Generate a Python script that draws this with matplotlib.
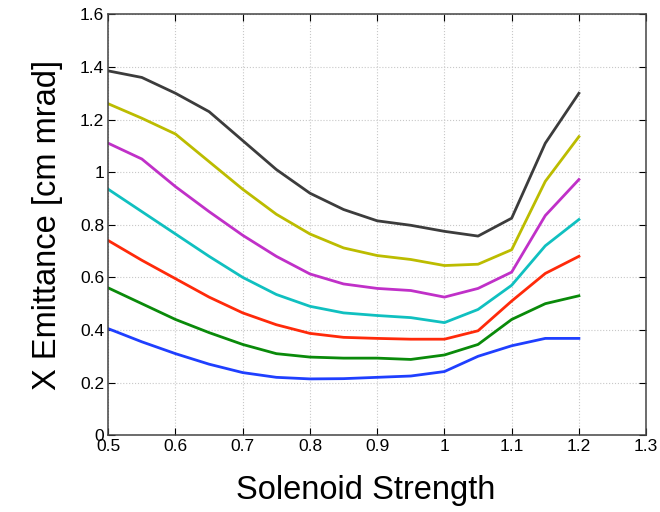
import numpy as np
import matplotlib
matplotlib.use('Agg')
import matplotlib.pyplot as plt

plt.rcParams['font.family'] = ['Liberation Sans', 'DejaVu Sans']

# Solenoid strength values
solenoid = [0.5, 0.55, 0.6, 0.65, 0.7, 0.75, 0.8, 0.85, 0.9, 0.95, 1.0, 1.05, 1.1, 1.15, 1.2]

# Emittance curves (bottom to top)
em_blue    = [0.405, 0.355, 0.31, 0.27, 0.238, 0.22, 0.214, 0.215, 0.22, 0.225, 0.242, 0.30, 0.34, 0.368, 0.368]
em_green   = [0.56, 0.50, 0.44, 0.39, 0.345, 0.31, 0.297, 0.293, 0.293, 0.288, 0.305, 0.345, 0.44, 0.50, 0.53]
em_red     = [0.74, 0.665, 0.595, 0.525, 0.465, 0.42, 0.387, 0.372, 0.368, 0.365, 0.365, 0.397, 0.51, 0.615, 0.68]
em_cyan    = [0.935, 0.85, 0.765, 0.68, 0.60, 0.535, 0.49, 0.465, 0.455, 0.447, 0.428, 0.478, 0.57, 0.72, 0.82]
em_magenta = [1.11, 1.05, 0.945, 0.85, 0.76, 0.68, 0.613, 0.575, 0.558, 0.55, 0.525, 0.558, 0.62, 0.835, 0.972]
em_yellow  = [1.26, 1.205, 1.145, 1.04, 0.935, 0.84, 0.765, 0.712, 0.683, 0.668, 0.645, 0.65, 0.705, 0.965, 1.135]
em_black   = [1.385, 1.36, 1.30, 1.23, 1.12, 1.01, 0.92, 0.858, 0.815, 0.798, 0.775, 0.757, 0.825, 1.11, 1.30]

series = [em_blue, em_green, em_red, em_cyan, em_magenta, em_yellow, em_black]
colors = ['#1f3fff', '#0a8a0a', '#ff2a0a', '#10c0c0', '#c030c8', '#bcbc00', '#3c3c3c']

fig = plt.figure(figsize=(6.6, 5.12), dpi=100)
ax = fig.add_axes([0.164, 0.150, 0.815, 0.822])

for ys, c in zip(series, colors):
    ax.plot(solenoid, ys, color=c, lw=2.0)

ax.set_xlim(0.5, 1.3)
ax.set_ylim(0, 1.6)
ax.set_xticks(np.arange(0.5, 1.31, 0.1))
ax.set_yticks(np.arange(0, 1.61, 0.2))
ax.set_xticklabels(['0.5', '0.6', '0.7', '0.8', '0.9', '1', '1.1', '1.2', '1.3'])
ax.set_yticklabels(['0', '0.2', '0.4', '0.6', '0.8', '1', '1.2', '1.4', '1.6'])
ax.grid(True, linestyle=':', color='#c8c8c8', lw=0.8)
ax.tick_params(direction='in', top=True, right=True, labelsize=12.5, length=5, pad=3)
for s in ax.spines.values():
    s.set_linewidth(1.1)
    s.set_color('#444444')

ax.set_xlabel('Solenoid Strength', fontsize=23.5, labelpad=15)
ax.xaxis.label.set_x(0.478)
ax.set_ylabel('X Emittance [cm mrad]', fontsize=23.5, labelpad=12)

fig.savefig('out.png', dpi=100)
